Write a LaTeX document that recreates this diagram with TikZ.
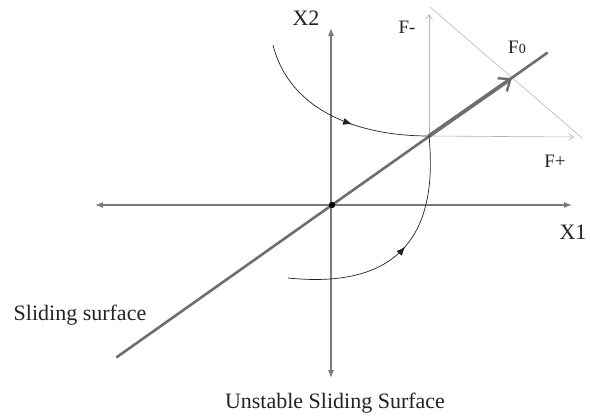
\documentclass[tikz,border=0pt]{standalone}
\usepackage{fontspec}
\setmainfont{Liberation Serif}
\usepackage{tikz}
\usetikzlibrary{arrows.meta, decorations.markings}
\definecolor{axisgray}{HTML}{7A7A7A}
\definecolor{ltgray}{HTML}{B4B4B4}
\definecolor{surfgray}{HTML}{6E6E6E}
\definecolor{dkgray}{HTML}{222222}

\begin{document}
\begin{tikzpicture}[
    x=1pt, y=-1pt,
    axis/.style={{Latex[length=8pt, width=6pt]}-{Latex[length=8pt, width=6pt]}, line width=1.1pt, color=axisgray},
    faxis/.style={-{Straight Barb[length=5pt, width=7pt]}, line width=0.6pt, color=ltgray},
    surface/.style={line width=2.6pt, color=surfgray, line cap=round},
    surfarrow/.style={-{Straight Barb[length=10pt, width=16pt, line width=2.4pt]}, line width=3.8pt, color=surfgray},
    traj/.style={line width=0.7pt, color=dkgray,
        postaction={decorate, decoration={markings,
            mark=at position #1 with {\arrow{Latex[length=9pt, width=7pt]}}}}},
    lbl/.style={font=\fontsize{22}{26}\selectfont, inner sep=0pt, text=dkgray},
    flbl/.style={font=\fontsize{19}{22}\selectfont, inner sep=0pt, text=dkgray}
]
\useasboundingbox (0,0) rectangle (590,416);

% --- Points ---
\coordinate (o) at (332,205);
\coordinate (xl) at (95,205);
\coordinate (xr) at (572,205);
\coordinate (yt) at (331,28);
\coordinate (yb) at (331,378);
\coordinate (p) at (429,136);
\coordinate (fm) at (429,14);
\coordinate (fp) at (574,137);
\coordinate (ss) at (117,357);
\coordinate (se) at (547,53);
\coordinate (f0) at (512,78);
\coordinate (dl) at (430,7);
\coordinate (dr) at (582,138);
\coordinate (ua) at (273,45);
\coordinate (la) at (288,278);

% --- Main axes ---
\draw[axis] (xl) -- (xr);
\draw[axis] (yb) -- (yt);

% --- Force axes ---
\draw[faxis] (p) -- (fm);
\draw[faxis] (p) -- (fp);
\draw[line width=0.6pt, color=ltgray] (dl) -- (dr);

% --- Sliding surface ---
\draw[surface] (ss) -- (se);
\draw[surfarrow] (p) -- (f0);

% --- Trajectories ---
\draw[traj=0.6] (ua) .. controls (290,112) and (360,136) .. (p);
\draw[traj=0.52] (la) .. controls (405,290) and (438,228) .. (p);

% --- Origin ---
\fill[black] (o) circle (3.2pt);

% --- Labels ---
\node[lbl] (xone) at (573,232) {X1};
\node[lbl] (xtwo) at (306,18) {X2};
\node[flbl] (fminus) at (407,27) {F-};
\node[flbl] (fplus) at (555,161) {F+};
\node[flbl] (fzero) at (517,47) {F{\fontsize{14}{16}\selectfont 0}};
\node[lbl] (slide) at (80,315) {Sliding surface};
\node[lbl] (unstab) at (335,403) {Unstable Sliding Surface};

\end{tikzpicture}
\end{document}
